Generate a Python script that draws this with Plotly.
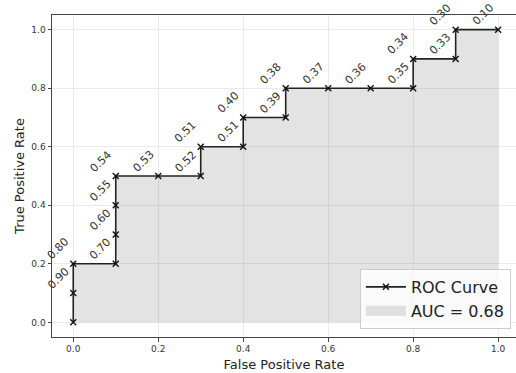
import plotly.graph_objects as go

fpr = [0.0, 0.0, 0.0, 0.1, 0.1, 0.1, 0.1, 0.2, 0.3, 0.3, 0.4, 0.4, 0.5, 0.5, 0.6, 0.7, 0.8, 0.8, 0.9, 0.9, 1.0]
tpr = [0.0, 0.1, 0.2, 0.2, 0.3, 0.4, 0.5, 0.5, 0.5, 0.6, 0.6, 0.7, 0.7, 0.8, 0.8, 0.8, 0.8, 0.9, 0.9, 1.0, 1.0]
threshold_labels = [None, "0.90", "0.80", "0.70", "0.60", "0.55", "0.54", "0.53", "0.52", "0.51",
                    "0.51", "0.40", "0.39", "0.38", "0.37", "0.36", "0.35", "0.34", "0.33", "0.30", "0.10"]
auc_label = "AUC = 0.68"
tick_vals = [0.0, 0.2, 0.4, 0.6, 0.8, 1.0]
tick_text = ["0.0", "0.2", "0.4", "0.6", "0.8", "1.0"]

FONT = "DejaVu Sans"
FILL = "rgba(128,128,128,0.22)"

fig = go.Figure()
fig.add_trace(go.Scatter(
    x=fpr, y=tpr, mode="lines", fill="tozeroy",
    fillcolor=FILL, line=dict(width=0, color="rgba(0,0,0,0)"),
    name=auc_label, showlegend=False,
))
fig.add_trace(go.Scatter(
    x=fpr, y=tpr, mode="lines+markers",
    line=dict(color="#222222", width=1.6),
    marker=dict(symbol="x-thin", size=6, color="#111111", line=dict(width=1.4, color="#111111")),
    name="ROC Curve", legendrank=1,
))
# legend swatch for the filled area
fig.add_trace(go.Scatter(
    x=[None], y=[None], mode="lines",
    line=dict(color=FILL, width=12),
    name=auc_label, legendrank=2,
))

for xv, yv, lab in zip(fpr, tpr, threshold_labels):
    if lab is None:
        continue
    fig.add_annotation(x=xv, y=yv, text=lab, showarrow=False, textangle=-45,
                       xshift=-15, yshift=15,
                       font=dict(family=FONT, size=11, color="#333333"))

axis_common = dict(
    showgrid=True, gridcolor="#e9e9e9", gridwidth=1,
    zeroline=False, showline=True, linecolor="#444444", linewidth=1,
    ticks="outside", ticklen=3.5, tickcolor="#444444", tickwidth=1,
    tickfont=dict(family=FONT, size=9, color="#333333"),
    tickvals=tick_vals, ticktext=tick_text,
)

fig.update_layout(
    width=516, height=373,
    margin=dict(l=52, r=0, t=15, b=36),
    paper_bgcolor="white", plot_bgcolor="white",
    font=dict(family=FONT, color="#222222"),
    xaxis=dict(range=[-0.05, 1.042], mirror=True,
               title=dict(text="False Positive Rate", font=dict(family=FONT, size=13, color="#222222"), standoff=6),
               **axis_common),
    yaxis=dict(range=[-0.05, 1.05],
               title=dict(text="True Positive Rate", font=dict(family=FONT, size=13, color="#222222"), standoff=3),
               **axis_common),
    legend=dict(x=0.989, y=0.025, xanchor="right", yanchor="bottom",
                bgcolor="rgba(255,255,255,0.8)", bordercolor="#cccccc", borderwidth=1,
                font=dict(family=FONT, size=16, color="#222222"),
                itemwidth=40, traceorder="normal"),
    showlegend=True,
)

fig.write_html("out.html")
